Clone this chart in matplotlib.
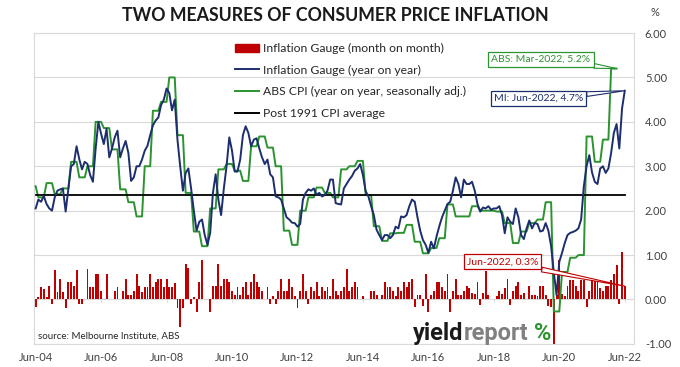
import numpy as np
import matplotlib.pyplot as plt
from matplotlib.lines import Line2D
from matplotlib.patches import Patch
from matplotlib.offsetbox import TextArea, HPacker, AnchoredOffsetbox

plt.rcParams['font.family'] = ['Lato', 'DejaVu Sans']

# Melbourne Institute Inflation Gauge, monthly Jun-04 .. Jun-22
gauge_mom = [
    -0.17, 0.05, 0.27, 0.24, 0.05, 0.30, -0.11, 0.67, 0.17, 0.47, 0.17, -0.19,
    0.39, 0.39, 0.30, 0.67, -0.11, -0.11, 0.0, 0.68, 0.28, 0.28, 0.58, 0.58,
    0.19, 0.0, 0.58, 0.0, 0.0, 0.19, 0.28, 0.0, 0.19, 0.47, 0.09, 0.09,
    0.19, 0.57, 0.30, 0.17, 0.28, 0.28, 0.57, 0.28, 0.39, 0.47, 0.47, 0.28,
    0.47, 0.28, 0.28, 0.37, -0.19, -0.61, -0.19, 0.80, 0.70, -0.11, 0.05, -0.29,
    0.39, 0.89, 0.0, 0.0, -0.29, 0.30, 0.30, 0.80, 0.30, 0.47, 0.47, 0.39,
    0.20, 0.09, 0.28, 0.09, 0.28, 0.39, 0.09, 0.39, 0.57, 0.39, 0.28, 0.20,
    0.0, 0.28, -0.11, 0.07, -0.11, 0.20, 0.47, 0.20, 0.20, 0.47, 0.28, 0.07,
    -0.19, 0.20, 0.57, 0.20, -0.11, 0.28, 0.20, 0.39, 0.07, 0.28, 0.20, 0.28,
    0.07, 0.47, 0.20, 0.09, 0.20, 0.28, 0.68, 0.20, 0.28, 0.39, 0.28, 0.0,
    0.07, 0.0, 0.0, 0.20, 0.20, 0.09, 0.0, 0.09, 0.39, 0.28, 0.28, 0.20,
    0.07, 0.28, 0.20, 0.39, 0.28, 0.39, 0.45, -0.17, 0.09, 0.09, -0.14, 0.58,
    -0.29, 0.09, 0.20, 0.39, 0.39, 0.28, 0.20, 0.58, -0.29, 0.20, 0.47, 0.09,
    0.09, 0.20, 0.30, 0.25, 0.15, 0.12, 0.40, -0.13, 0.15, 0.65, 0.10, 0.0,
    0.0, 0.07, 0.20, 0.12, 0.25, 0.45, -0.13, 0.20, 0.30, 0.40, 0.10, 0.15,
    0.0, 0.30, 0.10, 0.10, 0.07, 0.30, 0.30, 0.10, -0.15, -0.17, -1.10, 0.10,
    0.89, 0.12, 0.07, 0.30, 0.43, 0.43, 0.30, 0.20, 0.43, 0.43, -0.17, 0.20,
    0.43, 0.43, 0.39, 0.25, 0.20, 0.30, 0.30, 0.43, 0.58, 0.77, -0.10, 1.08, 0.30,
]
gauge_yoy = [
    2.05, 2.25, 2.2, 2.33, 2.15, 2.05, 2.0, 2.3, 2.45, 2.48, 2.5, 1.98,
    2.5, 3.0, 3.05, 3.45, 3.16, 2.93, 3.1, 3.05, 2.8, 2.65, 3.4, 4.0,
    3.73, 3.5, 3.84, 3.2, 3.4, 3.65, 3.8, 3.2, 3.4, 3.57, 3.3, 2.67,
    2.75, 3.0, 3.0, 3.15, 3.35, 3.46, 3.7, 3.92, 4.03, 4.1, 4.38, 4.5,
    4.75, 4.65, 4.26, 4.5, 3.6, 3.0, 2.45, 2.85, 2.95, 2.5, 2.0, 1.55,
    1.75, 1.8, 1.45, 1.23, 1.5, 2.4, 2.82, 2.25, 1.9, 2.5, 3.0, 3.65,
    3.35, 2.88, 2.88, 3.15, 3.7, 3.9, 3.75, 3.45, 3.6, 3.63, 3.4, 3.2,
    3.05, 3.15, 2.82, 2.75, 2.32, 2.3, 2.25, 2.05, 1.85, 1.8, 1.73, 1.72,
    1.64, 1.7, 2.25, 2.4, 2.48, 2.45, 2.5, 2.36, 2.4, 2.32, 2.35, 2.45,
    2.7, 2.7, 2.17, 2.15, 2.14, 2.5, 2.6, 2.7, 2.78, 2.9, 2.95, 3.05,
    2.8, 2.44, 2.32, 2.1, 1.9, 1.57, 1.45, 1.34, 1.45, 1.45, 1.38, 1.45,
    1.64, 1.6, 1.87, 1.85, 1.9, 2.1, 2.25, 2.2, 1.85, 1.55, 1.34, 1.23,
    1.05, 1.3, 1.15, 1.42, 1.65, 1.85, 2.0, 2.15, 2.2, 2.45, 2.75, 2.6,
    2.3, 2.7, 2.6, 2.6, 2.65, 2.45, 2.15, 1.98, 2.07, 2.05, 2.1, 2.02,
    2.05, 2.05, 2.1, 1.9, 1.49, 1.85, 1.75, 1.7, 2.05, 1.85, 1.45, 1.36,
    1.6, 1.78, 1.6, 1.72, 1.7, 1.53, 1.55, 1.72, 1.55, 1.2, 0.6, 0.1,
    0.85, 1.05, 1.27, 1.45, 1.5, 1.52, 1.55, 1.6, 1.8, 2.55, 3.0, 3.25,
    2.86, 2.65, 2.6, 2.95, 3.0, 2.85, 2.95, 3.3, 3.75, 3.95, 3.4, 4.3, 4.7,
]
# ABS CPI yoy (seasonally adj.), quarterly Jun-04 .. Mar-22
abs_cpi_q = [
    2.55, 2.3, 2.62, 2.37, 2.5, 3.1, 2.75, 3.0, 4.0, 3.86, 3.38, 2.48,
    2.19, 1.87, 3.0, 4.25, 4.45, 5.0, 3.7, 2.4, 1.53, 1.2, 2.05, 2.93,
    3.05, 2.9, 2.67, 3.45, 3.67, 3.42, 3.0, 1.55, 1.23, 2.0, 2.3, 2.52,
    2.4, 2.3, 2.93, 3.0, 3.12, 2.35, 1.65, 1.32, 1.49, 1.5, 1.68, 1.3,
    1.04, 1.16, 1.38, 2.14, 1.87, 1.87, 2.1, 2.0, 2.0, 1.98, 1.72, 1.27,
    1.53, 1.72, 1.8, 2.19, -0.27, 0.62, 0.94, 1.0, 3.67, 3.1, 3.6, 5.2,
]
cpi_avg = 2.36
tick_labels = ['Jun-04', 'Jun-06', 'Jun-08', 'Jun-10', 'Jun-12',
               'Jun-14', 'Jun-16', 'Jun-18', 'Jun-20', 'Jun-22']

red = '#c00000'
navy = '#1c2e6e'
green = '#2b9330'
grey = '#d9d9d9'

months = np.arange(len(gauge_yoy))
# each quarter fills its three months (Jun-04 only its last month)
abs_cpi = np.repeat(abs_cpi_q, [1] + [3] * (len(abs_cpi_q) - 1))

fig = plt.figure(figsize=(6.8, 3.67), dpi=100)
ax = fig.add_axes([0.05, 0.063, 0.882, 0.847])

ax.bar(np.arange(len(gauge_mom)), gauge_mom, width=0.7, color=red, zorder=2)
ax.plot(months, gauge_yoy, color=navy, lw=1.4, zorder=4)
ax.plot(np.arange(len(abs_cpi)), abs_cpi, color=green, lw=1.4, zorder=3)
ax.plot([0, months[-1]], [cpi_avg, cpi_avg], color='black', lw=1.3, zorder=3)

ax.set_xlim(-0.6, 219.3)
ax.set_ylim(-1, 6)
ax.set_yticks(np.arange(-1, 7))
ax.yaxis.set_major_formatter(plt.FormatStrFormatter('%.2f'))
ax.yaxis.tick_right()
ax.set_xticks(np.arange(0, len(months), 24))
ax.set_xticklabels(tick_labels)
ax.tick_params(axis='y', length=0, pad=8, labelsize=8, labelcolor='#404040')
ax.tick_params(axis='x', length=0, pad=6, labelsize=8, labelcolor='#404040')
ax.grid(axis='y', color=grey, lw=0.8, zorder=0)
ax.set_axisbelow(True)
for s in ax.spines.values():
    s.set_color(grey)
# little category ticks on the zero line
ax.vlines(np.arange(0, len(months), 24), -0.06, 0, color=grey, lw=0.8, zorder=1)

handles = [Patch(color=red),
           Line2D([], [], color=navy, lw=1.4),
           Line2D([], [], color=green, lw=1.4),
           Line2D([], [], color='black', lw=1.4)]
labels = ['Inflation Gauge (month on month)', 'Inflation Gauge (year on year)',
          'ABS CPI (year on year, seasonally adj.)', 'Post 1991 CPI average']
ax.legend(handles, labels, loc='upper left', bbox_to_anchor=(0.335, 0.968),
          frameon=False, fontsize=8.7, handlelength=2.0, handletextpad=0.3,
          labelspacing=0.88, borderpad=0, borderaxespad=0, labelcolor='#262626')

# callouts
def callout(text, xy, xytext, color):
    ax.annotate(text, xy=xy, xytext=xytext, color=color, fontsize=7.5,
                ha='center', va='center', zorder=6,
                bbox=dict(boxstyle='square,pad=0.3', fc='white', ec=color, lw=0.9),
                arrowprops=dict(arrowstyle='wedge,tail_width=0.45', fc='white',
                                ec=color, lw=0.8, shrinkA=0, shrinkB=0))

callout('ABS: Mar-2022, 5.2%', (len(abs_cpi) - 1, abs_cpi[-1]), (185.3, 5.4), green)
callout('MI: Jun-2022, 4.7%', (months[-1], gauge_yoy[-1]), (184.4, 4.53), navy)
callout('Jun-2022, 0.3%', (len(gauge_mom) - 1, gauge_mom[-1]), (171.2, 0.85), red)

ax.text(0.007, 0.026, 'source: Melbourne Institute, ABS', transform=ax.transAxes,
        fontsize=7, color='#262626', va='center')

logo_font = ['Liberation Sans Narrow', 'Roboto', 'DejaVu Sans']
logo = HPacker(children=[
    TextArea('yield', textprops=dict(fontsize=17, weight='bold', color='#1a1a1a',
                                     family=logo_font)),
    TextArea('report', textprops=dict(fontsize=17, weight='bold', color='#808080',
                                      family=logo_font)),
    TextArea(' %', textprops=dict(fontsize=17, weight='bold', color=green,
                                  family=logo_font)),
], sep=0, pad=0)
ax.add_artist(AnchoredOffsetbox(loc='lower left', child=logo, pad=0, borderpad=0,
                                frameon=False, bbox_to_anchor=(0.632, -0.005),
                                bbox_transform=ax.transAxes))

fig.text(0.493, 0.958, 'TWO MEASURES OF CONSUMER PRICE INFLATION', ha='center',
         va='center', fontsize=12.8, weight='bold', color='#1a1a1a')
fig.text(0.963, 0.967, '%', ha='center', va='center', fontsize=8, color='#404040')

fig.savefig('out.png', dpi=100)
